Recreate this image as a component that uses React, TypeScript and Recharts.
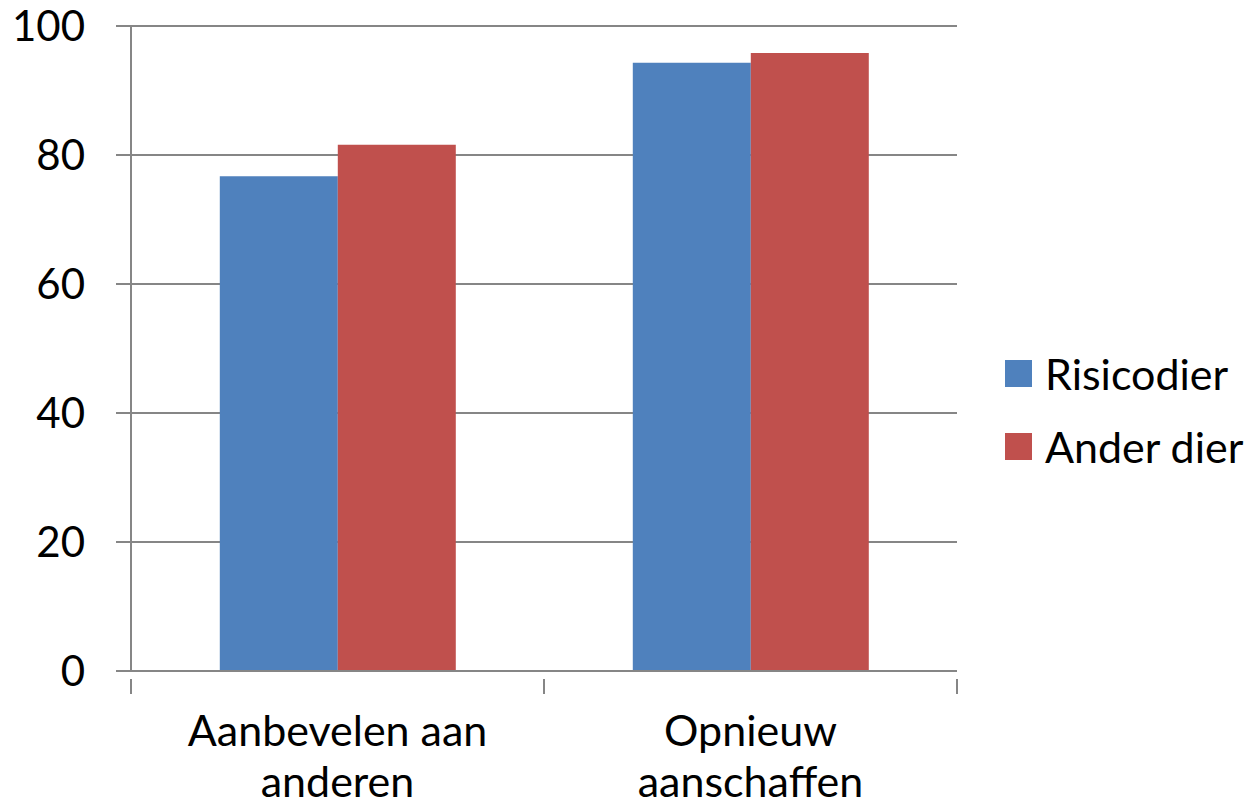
import { BarChart, Bar, XAxis, YAxis, CartesianGrid } from "recharts";

const categories = ["Aanbevelen aan\nanderen", "Opnieuw\naanschaffen"];
const seriesNames = ["Risicodier", "Ander dier"];
const seriesColors = ["#4F81BD", "#C0504D"];
const risicodier = [76.7, 94.3];
const anderDier = [81.6, 95.8];
const yTicks = [0, 20, 40, 60, 80, 100];

const data = categories.map((c, i) => ({
  name: c,
  Risicodier: risicodier[i],
  "Ander dier": anderDier[i],
}));

const FONT = "Lato, Calibri, Carlito, sans-serif";
const GRID = "#868686";
const W = 1256;
const H = 810;
const LEFT = 131;
const TOP = 26;
const RIGHT = 299;
const BOTTOM = 139;
const HALF_BAND = (W - LEFT - RIGHT) / categories.length / 2;

function YTick(props: any) {
  const { x, y, payload } = props;
  return (
    <text x={x} y={y} dy="0.36em" textAnchor="end" fontSize={42} fontFamily={FONT} fill="#000">
      {payload.value}
    </text>
  );
}

function XTick(props: any) {
  const { x, y, payload, index } = props;
  const lines = String(payload.value).split("\n");
  return (
    <g>
      <line x1={x - HALF_BAND} x2={x - HALF_BAND} y1={y} y2={y + 15} stroke={GRID} strokeWidth={2} />
      {index === categories.length - 1 && (
        <line x1={x + HALF_BAND} x2={x + HALF_BAND} y1={y} y2={y + 15} stroke={GRID} strokeWidth={2} />
      )}
      <text x={x} y={y + 67} textAnchor="middle" fontSize={43} fontFamily={FONT} fill="#000">
        {lines.map((l, i) => (
          <tspan key={i} x={x} dy={i === 0 ? 0 : 51}>
            {l}
          </tspan>
        ))}
      </text>
    </g>
  );
}

export default function App() {
  return (
    <div style={{ position: "absolute", left: 0, top: 0, width: W, height: H, background: "#fff" }}>
      <BarChart
        width={W}
        height={H}
        data={data}
        margin={{ top: TOP, right: RIGHT, bottom: 0, left: 0 }}
        barCategoryGap="21.5%"
        barGap={0}
      >
        <CartesianGrid vertical={false} stroke={GRID} strokeWidth={2} />
        <YAxis
          width={LEFT}
          domain={[0, 100]}
          ticks={yTicks}
          interval={0}
          axisLine={{ stroke: GRID, strokeWidth: 2 }}
          tickLine={{ stroke: GRID, strokeWidth: 2 }}
          tickSize={15}
          tickMargin={31}
          tick={<YTick />}
        />
        <XAxis
          dataKey="name"
          height={BOTTOM}
          interval={0}
          axisLine={{ stroke: GRID, strokeWidth: 2 }}
          tickLine={false}
          tick={<XTick />}
        />
        <Bar dataKey="Risicodier" fill={seriesColors[0]} isAnimationActive={false} />
        <Bar dataKey="Ander dier" fill={seriesColors[1]} isAnimationActive={false} />
      </BarChart>
      {/* legend */}
      <div style={{ position: "absolute", left: 1005, top: 351, fontFamily: FONT, fontSize: 43, color: "#000" }}>
        {seriesNames.map((n, i) => (
          <div key={n} style={{ display: "flex", alignItems: "center", height: 44, marginBottom: i === 0 ? 29 : 0, whiteSpace: "nowrap" }}>
            <span style={{ display: "inline-block", width: 27, height: 27, background: seriesColors[i], marginRight: 13 }} />
            <span>{n}</span>
          </div>
        ))}
      </div>
    </div>
  );
}
